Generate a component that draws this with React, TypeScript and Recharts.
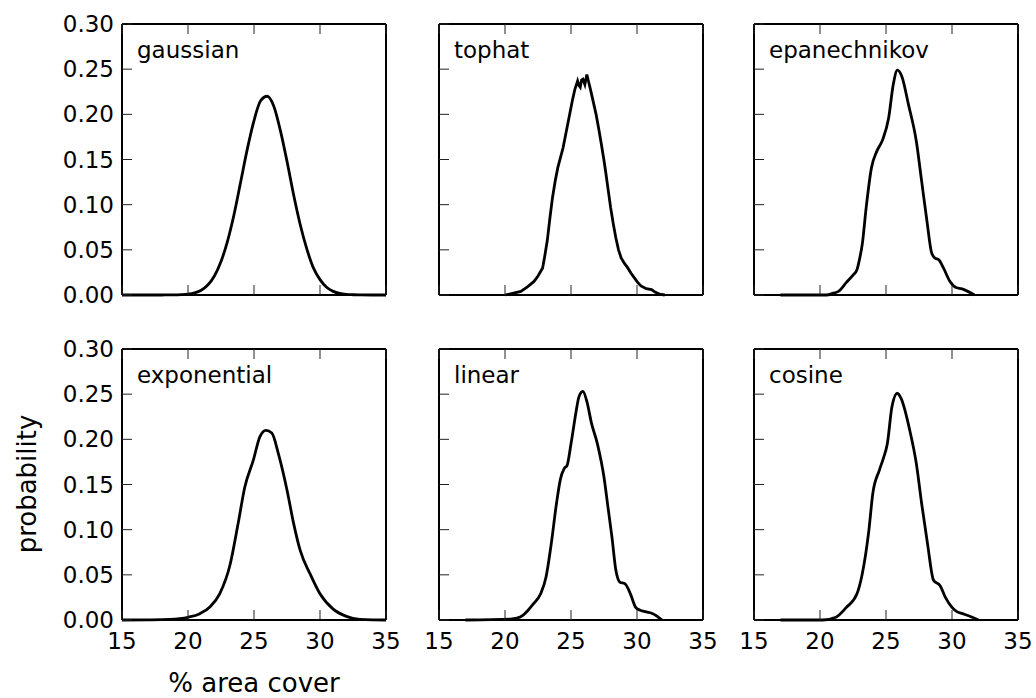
import { LineChart, Line, XAxis, YAxis } from 'recharts';

// ---- data (x = % area cover, y = probability) ----
const xTicks = [15, 20, 25, 30, 35];
const yTicks = [0, 0.05, 0.1, 0.15, 0.2, 0.25, 0.3];

const gaussian: [number, number][] = [
  [15, 0], [16, 0], [17, 0], [18, 0], [18.5, 0.0001], [19, 0.0001], [19.5, 0.0004], [20, 0.001],
  [20.5, 0.0024], [21, 0.0053], [21.5, 0.011], [22, 0.021], [22.5, 0.037], [23, 0.06], [23.5, 0.09],
  [24, 0.126], [24.5, 0.162], [25, 0.193], [25.5, 0.215], [26, 0.22], [26.5, 0.209], [27, 0.182],
  [27.5, 0.148], [28, 0.111], [28.5, 0.078], [29, 0.051], [29.5, 0.03], [30, 0.017], [30.5, 0.0085],
  [31, 0.004], [31.5, 0.0017], [32, 0.0007], [32.5, 0.0003], [33, 0.0001], [34, 0], [35, 0],
];

const tophat: [number, number][] = [
  [20, 0], [20.33, 0.001], [21.2, 0.004], [21.7, 0.009], [22.2, 0.015], [22.5, 0.021], [22.85, 0.03],
  [23.0, 0.042], [23.2, 0.06], [23.4, 0.085], [23.6, 0.108], [23.8, 0.126], [24.0, 0.141], [24.2, 0.152],
  [24.4, 0.163], [24.6, 0.178], [24.75, 0.189], [24.9, 0.2], [25.1, 0.215], [25.3, 0.228], [25.5, 0.237],
  [25.6, 0.232], [25.7, 0.23], [25.8, 0.238], [25.9, 0.239], [26.05, 0.233], [26.2, 0.244], [26.3, 0.238],
  [26.5, 0.226], [26.7, 0.213], [26.9, 0.2], [27.1, 0.184], [27.3, 0.167], [27.5, 0.149], [27.65, 0.134],
  [27.8, 0.118], [28.0, 0.097], [28.2, 0.079], [28.4, 0.063], [28.6, 0.05], [28.8, 0.041], [29.05, 0.035],
  [29.3, 0.03], [29.55, 0.024], [29.8, 0.019], [30.05, 0.014], [30.3, 0.01], [30.7, 0.007], [31.1, 0.006],
  [31.4, 0.003], [31.7, 0.001], [32.1, 0],
];

const epanechnikov: [number, number][] = [
  [17, 0], [20.5, 0], [21.0, 0.002], [21.4, 0.004], [22.0, 0.014], [22.5, 0.022], [22.8, 0.028],
  [23.0, 0.04], [23.2, 0.056], [23.5, 0.097], [23.9, 0.141], [24.3, 0.159], [24.75, 0.172], [25.2, 0.196],
  [25.55, 0.233], [25.86, 0.249], [26.2, 0.242], [26.7, 0.211], [27.3, 0.17], [27.7, 0.126], [28.1, 0.082],
  [28.45, 0.047], [28.7, 0.041], [29.0, 0.039], [29.35, 0.03], [29.85, 0.015], [30.35, 0.008], [30.7, 0.007],
  [31.2, 0.004], [31.7, 0],
];

const exponential: [number, number][] = [
  [15, 0], [17, 0.0002], [18.6, 0.0007], [20, 0.003], [20.9, 0.007], [21.7, 0.015], [22.4, 0.029],
  [23.2, 0.062], [23.8, 0.107], [24.3, 0.147], [24.95, 0.177], [25.45, 0.203], [25.9, 0.21], [26.35, 0.207],
  [26.85, 0.184], [27.5, 0.144], [28.0, 0.107], [28.5, 0.077], [29.25, 0.051], [30, 0.029], [31, 0.012],
  [32, 0.004], [33, 0.0007], [34, 0.0001], [35, 0],
];

const linear: [number, number][] = [
  [17, 0], [20.4, 0.001], [20.9, 0.002], [21.35, 0.005], [21.7, 0.01], [22.1, 0.017], [22.7, 0.029],
  [23.1, 0.047], [23.5, 0.084], [23.9, 0.129], [24.2, 0.156], [24.5, 0.168], [24.7, 0.171], [25.0, 0.195],
  [25.4, 0.232], [25.6, 0.247], [25.9, 0.253], [26.2, 0.242], [26.55, 0.218], [27.0, 0.195], [27.5, 0.158],
  [27.8, 0.125], [28.1, 0.092], [28.4, 0.055], [28.7, 0.042], [29.1, 0.04], [29.5, 0.029], [29.9, 0.014],
  [30.2, 0.011], [30.7, 0.009], [31.2, 0.007], [31.9, 0],
];

const cosine: [number, number][] = [
  [17, 0], [20.2, 0], [21.2, 0.003], [22.0, 0.014], [22.8, 0.029], [23.2, 0.051], [23.7, 0.099],
  [24.0, 0.14], [24.5, 0.166], [24.8, 0.179], [25.1, 0.195], [25.45, 0.236], [25.85, 0.251], [26.15, 0.245],
  [26.8, 0.21], [27.3, 0.173], [27.7, 0.129], [28.15, 0.084], [28.6, 0.044], [29.1, 0.038], [29.5, 0.025],
  [30.0, 0.014], [30.4, 0.009], [30.8, 0.007], [31.2, 0.005], [32.0, 0],
];

const kernelNames = ['gaussian', 'tophat', 'epanechnikov', 'exponential', 'linear', 'cosine'];
const kernelData = [gaussian, tophat, epanechnikov, exponential, linear, cosine];

// ---- layout ----
const PANEL_W = 264;
const PANEL_H = 271;
const COL_X = [122, 439, 754];
const ROW_Y = [24, 349];
// each axis takes 1px (a zero-sized axis is not drawn), so margins are 1px less
const MARGIN = { top: 19, right: 29, bottom: 49, left: 79 };
const FONT = "'DejaVu Sans', sans-serif";
const TICK_LEN = 10;

// inward ticks, drawn from the axis' own tick positions
const bottomTick = (showLabel: boolean) => (props: any) => {
  const { x, y, payload } = props;
  return (
    <g>
      <line x1={x} y1={y} x2={x} y2={y - TICK_LEN} stroke="#222" strokeWidth={1} />
      {showLabel && (
        <text x={x} y={y + 29} textAnchor="middle" fontSize={23} fontFamily={FONT} fill="#000">
          {payload.value}
        </text>
      )}
    </g>
  );
};

const topTick = (props: any) => {
  const { x, y } = props;
  return <line x1={x} y1={y} x2={x} y2={y + TICK_LEN} stroke="#222" strokeWidth={1} />;
};

const leftTick = (showLabel: boolean) => (props: any) => {
  const { x, y, payload } = props;
  return (
    <g>
      <line x1={x} y1={y} x2={x + TICK_LEN} y2={y} stroke="#222" strokeWidth={1} />
      {showLabel && (
        <text x={x - 8} y={y + 8} textAnchor="end" fontSize={23} fontFamily={FONT} fill="#000">
          {Number(payload.value).toFixed(2)}
        </text>
      )}
    </g>
  );
};

const rightTick = (props: any) => {
  const { x, y } = props;
  return <line x1={x} y1={y} x2={x - TICK_LEN} y2={y} stroke="#222" strokeWidth={1} />;
};

type Props = {
  index: number
}

const Panel = ({ index }: Props) => {
  const col = index % 3;
  const row = Math.floor(index / 3);
  const rows = kernelData[index].map(([x, y]) => ({ x, y }));
  const frame = { stroke: '#000', strokeWidth: 2 };
  return (
    <div style={{ position: 'absolute', left: COL_X[col] - MARGIN.left - 1, top: ROW_Y[row] - MARGIN.top - 1 }}>
      <LineChart
        width={PANEL_W + MARGIN.left + MARGIN.right + 2}
        height={PANEL_H + MARGIN.top + MARGIN.bottom + 2}
        data={rows}
        margin={MARGIN}
      >
        <XAxis xAxisId="b" dataKey="x" type="number" domain={[15, 35]} ticks={xTicks} interval={0}
          height={1} tickSize={0} tickMargin={0} tickLine={false} axisLine={frame} tick={bottomTick(row === 1)} />
        <XAxis xAxisId="t" orientation="top" dataKey="x" type="number" domain={[15, 35]} ticks={xTicks} interval={0}
          height={1} tickSize={0} tickMargin={0} tickLine={false} axisLine={frame} tick={topTick} />
        <YAxis yAxisId="l" type="number" domain={[0, 0.3]} ticks={yTicks} interval={0}
          width={1} tickSize={0} tickMargin={0} tickLine={false} axisLine={frame} tick={leftTick(col === 0)} />
        <YAxis yAxisId="r" orientation="right" type="number" domain={[0, 0.3]} ticks={yTicks} interval={0}
          width={1} tickSize={0} tickMargin={0} tickLine={false} axisLine={frame} tick={rightTick} />
        <Line
          xAxisId="b"
          yAxisId="l"
          dataKey="y"
          type={index === 1 ? 'linear' : 'monotone'}
          stroke="#000"
          strokeWidth={2.8}
          dot={false}
          isAnimationActive={false}
        />
      </LineChart>
    </div>
  );
};

const App = () => {
  return (
    <div style={{ position: 'absolute', left: 0, top: 0, width: 1036, height: 698, background: '#fff' }}>
      {kernelNames.map((_, i) => <Panel key={i} index={i} />)}
      <svg width={1036} height={698} style={{ position: 'absolute', left: 0, top: 0, pointerEvents: 'none' }}>
        {kernelNames.map((name, i) => (
          <text key={name} x={COL_X[i % 3] + 15} y={ROW_Y[Math.floor(i / 3)] + 34}
            fontSize={23} fontFamily={FONT} fill="#000">
            {name}
          </text>
        ))}
        <text x={36} y={484} transform="rotate(-90 36 484)" textAnchor="middle" fontSize={26} fontFamily={FONT} fill="#000">
          probability
        </text>
        <text x={254} y={692} textAnchor="middle" fontSize={26} fontFamily={FONT} fill="#000">
          % area cover
        </text>
      </svg>
    </div>
  );
};

export default App;
